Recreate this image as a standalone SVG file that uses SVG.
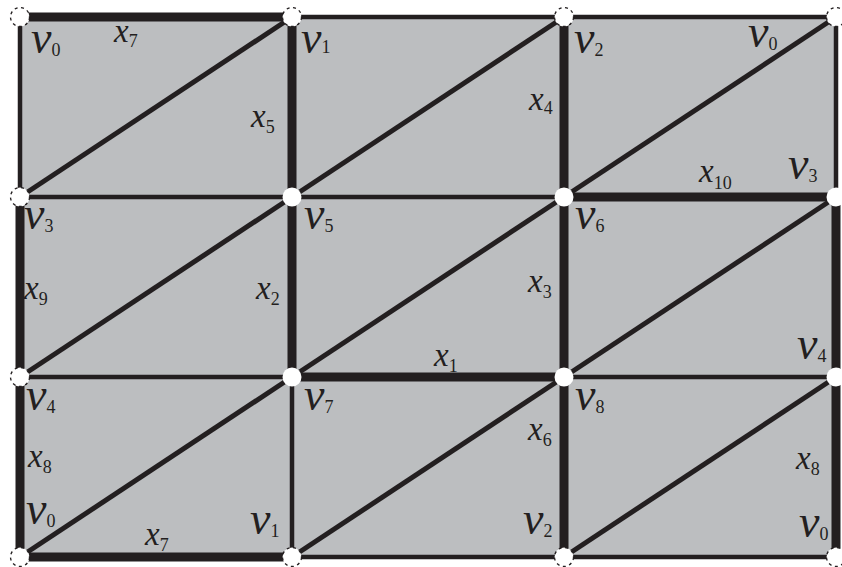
<svg xmlns="http://www.w3.org/2000/svg" width="842" height="567" viewBox="0 0 842 567">
<style>
.bg{fill:#bcbec0}
.thin{stroke:#231f20;stroke-width:4.5;fill:none}
.thick{stroke:#231f20;stroke-width:9;fill:none}
.diag{stroke:#231f20;stroke-width:5;fill:none}
.vb{fill:#fff;stroke:#231f20;stroke-width:1.3;stroke-dasharray:3 3.5}
.vi{fill:#fff;stroke:none}
text{font-family:"Liberation Serif","Times New Roman",serif;fill:#231f20}
.v{font-size:46px;font-style:italic}
.x{font-size:33px;font-style:italic}
.s{font-size:18px;font-style:normal}
</style>
<rect class="bg" x="20" y="17" width="816" height="540"/>
<g id="connectors">
  <line class="thick" x1="20" y1="17" x2="292" y2="17"/>
  <line class="thin" x1="292" y1="17" x2="564" y2="17"/>
  <line class="thin" x1="564" y1="17" x2="836" y2="17"/>
  <line class="thin" x1="20" y1="197" x2="292" y2="197"/>
  <line class="thin" x1="292" y1="197" x2="564" y2="197"/>
  <line class="thick" x1="564" y1="197" x2="836" y2="197"/>
  <line class="thin" x1="20" y1="377" x2="292" y2="377"/>
  <line class="thick" x1="292" y1="377" x2="564" y2="377"/>
  <line class="thin" x1="564" y1="377" x2="836" y2="377"/>
  <line class="thick" x1="20" y1="557" x2="292" y2="557"/>
  <line class="thin" x1="292" y1="557" x2="564" y2="557"/>
  <line class="thin" x1="564" y1="557" x2="836" y2="557"/>
  <line class="thin" x1="20" y1="17" x2="20" y2="197"/>
  <line class="thick" x1="20" y1="197" x2="20" y2="377"/>
  <line class="thick" x1="20" y1="377" x2="20" y2="557"/>
  <line class="thick" x1="292" y1="17" x2="292" y2="197"/>
  <line class="thick" x1="292" y1="197" x2="292" y2="377"/>
  <line class="thin" x1="292" y1="377" x2="292" y2="557"/>
  <line class="thick" x1="564" y1="17" x2="564" y2="197"/>
  <line class="thick" x1="564" y1="197" x2="564" y2="377"/>
  <line class="thick" x1="564" y1="377" x2="564" y2="557"/>
  <line class="thin" x1="836" y1="17" x2="836" y2="197"/>
  <line class="thick" x1="836" y1="197" x2="836" y2="377"/>
  <line class="thick" x1="836" y1="377" x2="836" y2="557"/>
  <line class="diag" x1="20" y1="197" x2="292" y2="17"/>
  <line class="diag" x1="292" y1="197" x2="564" y2="17"/>
  <line class="diag" x1="564" y1="197" x2="836" y2="17"/>
  <line class="diag" x1="20" y1="377" x2="292" y2="197"/>
  <line class="diag" x1="292" y1="377" x2="564" y2="197"/>
  <line class="diag" x1="564" y1="377" x2="836" y2="197"/>
  <line class="diag" x1="20" y1="557" x2="292" y2="377"/>
  <line class="diag" x1="292" y1="557" x2="564" y2="377"/>
  <line class="diag" x1="564" y1="557" x2="836" y2="377"/>
</g>
<g id="vertices">
  <g id="p00"><circle class="vb" cx="20" cy="17" r="9.5"/></g>
  <g id="p10"><circle class="vb" cx="292" cy="17" r="9.5"/></g>
  <g id="p20"><circle class="vb" cx="564" cy="17" r="9.5"/></g>
  <g id="p30"><circle class="vb" cx="836" cy="17" r="9.5"/></g>
  <g id="p01"><circle class="vb" cx="20" cy="197" r="9.5"/></g>
  <g id="p11"><circle class="vi" cx="292" cy="197" r="9.5"/></g>
  <g id="p21"><circle class="vi" cx="564" cy="197" r="9.5"/></g>
  <g id="p31"><circle class="vi" cx="836" cy="197" r="9.5"/></g>
  <g id="p02"><circle class="vb" cx="20" cy="377" r="9.5"/></g>
  <g id="p12"><circle class="vi" cx="292" cy="377" r="9.5"/></g>
  <g id="p22"><circle class="vi" cx="564" cy="377" r="9.5"/></g>
  <g id="p32"><circle class="vi" cx="836" cy="377" r="9.5"/></g>
  <g id="p03"><circle class="vb" cx="20" cy="557" r="9.5"/></g>
  <g id="p13"><circle class="vb" cx="292" cy="557" r="9.5"/></g>
  <g id="p23"><circle class="vb" cx="564" cy="557" r="9.5"/></g>
  <g id="p33"><circle class="vb" cx="836" cy="557" r="9.5"/></g>
</g>
<g id="labels">
  <text class="v" x="31" y="53">v<tspan class="s" dy="3">0</tspan></text>
  <text class="x" x="114" y="42">x<tspan class="s" dy="5">7</tspan></text>
  <text class="x" x="251" y="127">x<tspan class="s" dy="6">5</tspan></text>
  <text class="v" x="301" y="53">v<tspan class="s" dy="0">1</tspan></text>
  <text class="x" x="529" y="110">x<tspan class="s" dy="4">4</tspan></text>
  <text class="v" x="574" y="53">v<tspan class="s" dy="3">2</tspan></text>
  <text class="v" x="748" y="47">v<tspan class="s" dy="3">0</tspan></text>
  <text class="x" x="699" y="182">x<tspan class="s" dy="7">10</tspan></text>
  <text class="v" x="788" y="179">v<tspan class="s" dy="3">3</tspan></text>

  <text class="v" x="24" y="229">v<tspan class="s" dy="3">3</tspan></text>
  <text class="x" x="24" y="299">x<tspan class="s" dy="6">9</tspan></text>
  <text class="v" x="304" y="229">v<tspan class="s" dy="3">5</tspan></text>
  <text class="x" x="256" y="299">x<tspan class="s" dy="6">2</tspan></text>
  <text class="x" x="528" y="292">x<tspan class="s" dy="6">3</tspan></text>
  <text class="v" x="575" y="229">v<tspan class="s" dy="3">6</tspan></text>
  <text class="x" x="434" y="366">x<tspan class="s" dy="6">1</tspan></text>
  <text class="v" x="797" y="359">v<tspan class="s" dy="3">4</tspan></text>

  <text class="v" x="26" y="410">v<tspan class="s" dy="3">4</tspan></text>
  <text class="x" x="28" y="467">x<tspan class="s" dy="6">8</tspan></text>
  <text class="v" x="26" y="524">v<tspan class="s" dy="3">0</tspan></text>
  <text class="x" x="145" y="545">x<tspan class="s" dy="6">7</tspan></text>
  <text class="v" x="250" y="534">v<tspan class="s" dy="3">1</tspan></text>
  <text class="v" x="304" y="410">v<tspan class="s" dy="3">7</tspan></text>
  <text class="x" x="528" y="440">x<tspan class="s" dy="6">6</tspan></text>
  <text class="v" x="523" y="534">v<tspan class="s" dy="3">2</tspan></text>
  <text class="v" x="575" y="410">v<tspan class="s" dy="3">8</tspan></text>
  <text class="x" x="796" y="469">x<tspan class="s" dy="6">8</tspan></text>
  <text class="v" x="799" y="537">v<tspan class="s" dy="3">0</tspan></text>
</g>
</svg>
